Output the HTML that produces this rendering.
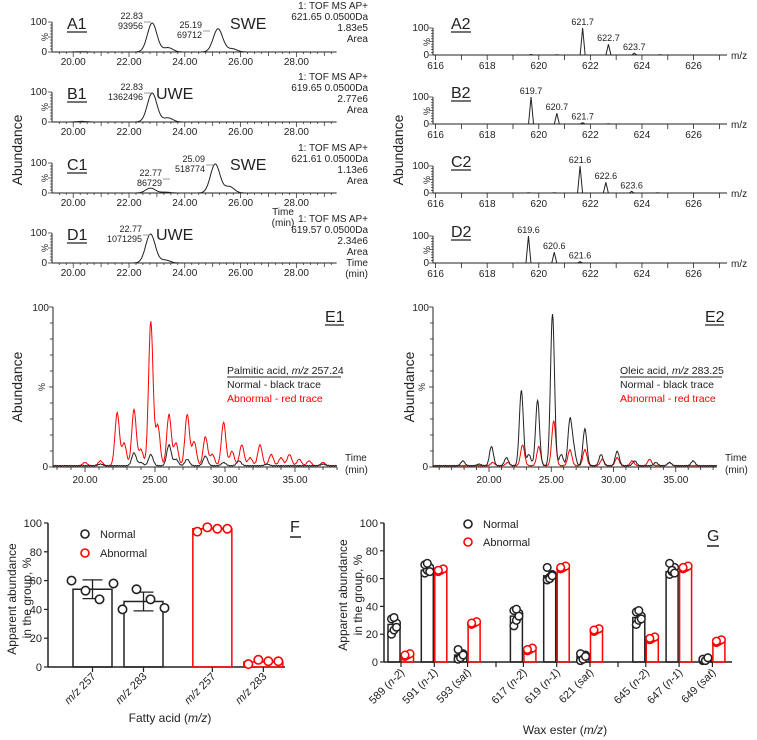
<!DOCTYPE html>
<html><head><meta charset="utf-8"><style>
html,body{margin:0;padding:0;background:#fff}
svg{display:block;font-family:"Liberation Sans",Arial,sans-serif}
</style></head><body>
<svg id="fig" width="757" height="740" viewBox="0 0 757 740" xmlns="http://www.w3.org/2000/svg"></svg>
<script>
// ---------- DATA ----------
const a1Times=[20.3,22.83,23.4,25.19,25.7];
const a1Heights=[1,100,15,80,11];
const b1Times=[20.3,22.83,23.4];
const b1Heights=[2,100,14];
const c1Times=[22.77,23.3,25.09,25.6];
const c1Heights=[17,3,100,22];
const d1Times=[22.77,23.3];
const d1Heights=[100,10];
const chromTicks=["20.00","22.00","24.00","26.00","28.00"];
const a2Mz=[619.7,620.7,621.7,622.7,623.7,624.7];const a2Int=[2,1,100,40,7,1];
const b2Mz=[619.7,620.7,621.7,622.7];const b2Int=[100,40,5,1];
const c2Mz=[619.6,620.6,621.6,622.6,623.6,624.6];const c2Int=[1,1,100,40,6,1];
const d2Mz=[619.6,620.6,621.6];const d2Int=[100,40,5];
const msTicks=["616","618","620","622","624","626"];
const e1RedT=[20.0,21.1,22.3,22.8,23.5,24.0,24.7,25.2,26.0,26.5,27.3,27.8,28.6,29.1,29.9,30.5,31.2,31.8,32.5,33.3,34.0,34.6,35.3,36.0,37.0];
const e1RedH=[2,3,33,14,35,10,90,25,32,14,32,15,18,7,27,9,13,5,13,7,5,7,4,3,2];
const e1BlkT=[21.1,23.5,24.0,24.7,26.0,26.5,27.3,28.6,29.9,31.0,33.0,37.0];
const e1BlkH=[1,8,2,7,13,4,4,6,2,3,1,1];
const e2BlkT=[17.9,19.2,20.2,21.4,22.6,23.2,23.9,25.1,25.8,26.5,26.8,27.7,29.0,30.3,31.7,33.4,34.5,36.4];
const e2BlkH=[3,1,12,5,47,7,41,95,7,28,10,23,7,9,3,2,2,3];
const e2RedT=[20.3,21.5,22.7,24.0,25.2,26.5,27.7,29.1,30.3,31.5,32.9,34.5];
const e2RedH=[2,2,13,12,28,10,10,4,5,3,4,2];
const eTicks=["20.00","25.00","30.00","35.00"];
const fCats=["257","283","257","283"];
const fMeans=[54,45.5,96,3.5];
const fSD=[6.5,6.5,0,0];
const fPts=[[60,53,47,58],[40,54,47,41],[94,97,96,96],[2,5,4,4]];
const fTicks=[0,20,40,60,80,100];
const gCats=["589","591","593","617","619","621","645","647","649"];
const gTags=["n-2","n-1","sat","n-2","n-1","sat","n-2","n-1","sat"];
const gNormal=[27,66,5,33,62,4,32,65,2];
const gAbnormal=[5,66,28,9,68,23,17,68,15];
const gNormalPts=[[20,23,28,31,32,25],[64,66,68,70,71,65],[2,4,6,9,3,5],[26,30,35,37,38,33],[59,61,63,68,60,62],[1,3,5,6,2,4],[27,30,33,36,37,31],[63,65,68,71,66,64],[1,2,3,2,1,3]];
const gAbnPts=[[4,5,6,5],[65,66,67,66],[27,28,29,28],[8,9,10,9],[67,68,69,68],[22,23,24,23],[16,17,18,17],[67,68,69,68],[14,15,16,15]];
const gTicks=[0,20,40,60,80,100];

// ---------- HELPERS ----------
const NS="http://www.w3.org/2000/svg";
const svg=document.getElementById('fig');
function mk(tag,attrs,parent){const e=document.createElementNS(NS,tag);for(const k in attrs)e.setAttribute(k,attrs[k]);(parent||svg).appendChild(e);return e;}
function txt(x,y,s,size,opt){opt=opt||{};const e=mk('text',{x:x,y:y,'font-size':size,fill:opt.fill||'#222','text-anchor':opt.anchor||'start'},opt.parent);if(opt.transform)e.setAttribute('transform',opt.transform);if(opt.html)e.innerHTML=s;else e.textContent=s;return e;}
function gsum(t,times,heights,sig){let v=0;for(let i=0;i<times.length;i++){const d=(t-times[i])/sig;v+=heights[i]*Math.exp(-0.5*d*d);}return v;}

// ---------- CHROMATOGRAMS (left) ----------
function chrom(name,base,times,heights,label,lx,sub,annY,ann,peakLabels){
  const g=mk('g',{});
  
  
  const x0=52,x1=333,t0=19.24,px=27.9;
  const X=t=>x0+(t-t0)*px;
  mk('line',{x1:x0,y1:base-30,x2:x0,y2:base,stroke:'#222','stroke-width':1},g);
  for(let i=0;i<=10;i++){mk('line',{x1:x0-(i%5==0?4:2),y1:base-i*3,x2:x0,y2:base-i*3,stroke:'#222','stroke-width':0.7},g);}
  mk('line',{x1:x0,y1:base,x2:x1,y2:base,stroke:'#222','stroke-width':1},g);
  for(let t=19.5;t<=29.4;t+=0.25){const maj=Math.abs(t-Math.round(t))<0.01&&Math.round(t)%2==0;const mid=Math.abs(t-Math.round(t))<0.01;mk('line',{x1:X(t),y1:base,x2:X(t),y2:base+(maj?5:mid?4:2),stroke:'#222','stroke-width':0.7},g);}
  chromTicks.forEach(s=>{txt(X(parseFloat(s)),base+13,s,10,{anchor:'middle',parent:g});});
  txt(47,base-27,'100',10,{anchor:'end',parent:g});txt(47,base+3,'0',10,{anchor:'end',parent:g});
  txt(45,base-12,'%',9,{anchor:'middle',parent:g,transform:`rotate(-90 45 ${base-15})`});
  let d='';for(let t=t0;t<=29.45;t+=0.03){const v=gsum(t,times,heights,0.17);d+=(d?'L':'M')+X(t).toFixed(1)+' '+(base-v*0.29).toFixed(1);}
  const p=mk('path',{d:d,fill:'none',stroke:'#222','stroke-width':1},g);
  
  
  txt(67,base-23,label,16,{parent:g});mk('line',{x1:67,y1:base-20,x2:87,y2:base-20,stroke:'#222','stroke-width':1.3},g);
  if(sub)txt(lx,base-23,sub,16,{parent:g});
  peakLabels.forEach(pl=>{txt(pl[0],pl[1],pl[2],9,{anchor:'end',parent:g});txt(pl[0],pl[1]+10,pl[3],9,{anchor:'end',parent:g});mk('line',{x1:pl[0]+1,y1:pl[1]+3,x2:pl[0]+8,y2:pl[1]+3,stroke:'#999','stroke-width':1},g);});
  ann.forEach((s,i)=>txt(368,annY+i*11,s,10,{anchor:'end',parent:g}));
  return g;
}
chrom('chromatogram-a1',52,a1Times,a1Heights,'A1',230,'SWE',9,['1: TOF MS AP+','621.65 0.0500Da','1.83e5','Area'],[[143,19,'22.83','93956'],[202,28,'25.19','69712']]);
chrom('chromatogram-b1',122,b1Times,b1Heights,'B1',156,'UWE',80,['1: TOF MS AP+','619.65 0.0500Da','2.77e6','Area'],[[143,90,'22.83','1362496']]);
chrom('chromatogram-c1',193,c1Times,c1Heights,'C1',230,'SWE',151,['1: TOF MS AP+','621.61 0.0500Da','1.13e6','Area'],[[162,176,'22.77','86729'],[205,162,'25.09','518774']]);
chrom('chromatogram-d1',263,d1Times,d1Heights,'D1',156,'UWE',222,['1: TOF MS AP+','619.57 0.0500Da','2.34e6','Area','Time','(min)'],[[142,232,'22.77','1071295']]);
txt(283,215,'Time',10,{anchor:'middle'});txt(283,226,'(min)',10,{anchor:'middle'});
txt(22,150,'Abundance',14,{anchor:'middle',transform:'rotate(-90 22 150)'});

// ---------- MASS SPECTRA (right) ----------
function ms(name,base,mz,inten,label){
  const g=mk('g',{});
  
  
  const x0=433,x1=727,m0=615.9,px=25.8;
  const X=m=>x0+(m-m0)*px;
  mk('line',{x1:x0,y1:base-27,x2:x0,y2:base,stroke:'#222','stroke-width':1},g);
  for(let i=0;i<=10;i++)mk('line',{x1:x0-(i%5==0?4:2),y1:base-i*2.7,x2:x0,y2:base-i*2.7,stroke:'#222','stroke-width':0.7},g);
  mk('line',{x1:x0,y1:base,x2:x1,y2:base,stroke:'#222','stroke-width':1},g);
  for(let m=616;m<=627;m++)mk('line',{x1:X(m),y1:base,x2:X(m),y2:base+5,stroke:'#222','stroke-width':0.8},g);
  msTicks.forEach(s=>txt(X(+s),base+14,s,10,{anchor:'middle',parent:g}));
  txt(429,base-24,'100',10,{anchor:'end',parent:g});txt(429,base+3,'0',10,{anchor:'end',parent:g});
  txt(427,base-10,'%',9,{anchor:'middle',parent:g,transform:`rotate(-90 427 ${base-13})`});
  txt(731,base+4,'m/z',10,{parent:g});
  mz.forEach((m,i)=>{const h=inten[i]*0.27;const p=mk('path',{d:`M${X(m)-2.5} ${base}L${X(m)} ${base-h}L${X(m)+2.5} ${base}`,fill:'none',stroke:'#222','stroke-width':1},g);
    
    
    if(inten[i]>=4)txt(X(m),base-h-3,m.toFixed(1),9,{anchor:'middle',parent:g});});
  txt(451,base-26,label,16,{parent:g});mk('line',{x1:451,y1:base-23,x2:471,y2:base-23,stroke:'#222','stroke-width':1.3},g);
}
ms('spectrum-a2',55,a2Mz,a2Int,'A2');
ms('spectrum-b2',124,b2Mz,b2Int,'B2');
ms('spectrum-c2',193,c2Mz,c2Int,'C2');
ms('spectrum-d2',263,d2Mz,d2Int,'D2');
txt(403,150,'Abundance',14,{anchor:'middle',transform:'rotate(-90 403 150)'});

// ---------- E panels ----------
function eplot(name,x0,x1,tA,tickPos20,px,series,label,title,abX){
  const g=mk('g',{});
  
  
  const base=467,top=307;
  const X=t=>tickPos20+(t-20)*px;const Y=v=>base-v*(base-top)/100;
  mk('line',{x1:x0,y1:top,x2:x0,y2:base,stroke:'#222','stroke-width':1},g);
  for(let i=0;i<=10;i++)mk('line',{x1:x0-(i%5==0?4:3),y1:Y(i*10),x2:x0,y2:Y(i*10),stroke:'#222','stroke-width':0.8},g);
  txt(x0-4,top+4,'100',10,{anchor:'end',parent:g});txt(x0-5,base+3,'0',10,{anchor:'end',parent:g});
  txt(x0-8,387,'%',9,{anchor:'middle',parent:g,transform:`rotate(-90 ${x0-8} 387)`});
  txt(abX,387,'Abundance',14,{anchor:'middle',parent:g,transform:`rotate(-90 ${abX} 387)`});
  mk('line',{x1:x0,y1:base,x2:x1,y2:base,stroke:'#222','stroke-width':1},g);
  for(let t=Math.ceil(tA[0]);t<=tA[1];t++)mk('line',{x1:X(t),y1:base,x2:X(t),y2:base+(t%5==0?5:3),stroke:'#222','stroke-width':0.8},g);
  eTicks.forEach(s=>txt(X(+s),base+16,s,10,{anchor:'middle',parent:g}));
  txt(x1+8,base-6,'Time',10,{parent:g});txt(x1+8,base+6,'(min)',10,{parent:g});
  series.forEach(s=>{let d='';for(let t=tA[0];t<=tA[1];t+=0.04){const v=0.8+gsum(t,s.t,s.h,0.16)+0.2*Math.sin(t*37);d+=(d?'L':'M')+X(t).toFixed(1)+' '+Y(Math.max(0,v)).toFixed(1);}
    const p=mk('path',{d:d,fill:'none',stroke:s.c,'stroke-width':1},g);
    
    });
  txt(x1-12,322,label,16,{parent:g});mk('line',{x1:x1-12,y1:325,x2:x1+7,y2:325,stroke:'#222','stroke-width':1.3},g);
  const lx=title.x;
  txt(lx,374,title.s,10.5,{parent:g,html:true});
  mk('line',{x1:lx,y1:377,x2:lx+title.w,y2:377,stroke:'#222','stroke-width':1},g);
  txt(lx,388,'Normal - black trace',10.5,{parent:g});
  txt(lx,402,'Abnormal - red trace',10.5,{parent:g,fill:'#f00'});
}
eplot('chromatogram-e1',53,337,[17.7,38.0],85,14,[{t:e1RedT,h:e1RedH,c:'#f00',n:'e1-abnormal-trace'},{t:e1BlkT,h:e1BlkH,c:'#222',n:'e1-normal-trace'}],'E1',{x:227,w:114,s:'Palmitic acid, <tspan font-style="italic">m/z</tspan> 257.24'},22);
eplot('chromatogram-e2',433,717,[15.5,38.3],489,12.45,[{t:e2RedT,h:e2RedH,c:'#f00',n:'e2-abnormal-trace'},{t:e2BlkT,h:e2BlkH,c:'#222',n:'e2-normal-trace'}],'E2',{x:620,w:102,s:'Oleic acid, <tspan font-style="italic">m/z</tspan> 283.25'},414);

// ---------- F ----------
(function(){
  const g=mk('g',{});
  
  
  const ax=48,base=667,top=523,xe=285;
  const Y=v=>base-v*(base-top)/100;
  const centers=[0,1,2.35,3.35].map(i=>92.5+i*51);
  mk('line',{x1:ax,y1:top,x2:ax,y2:base,stroke:'#222','stroke-width':1.5},g);
  mk('line',{x1:ax,y1:base,x2:xe,y2:base,stroke:'#222','stroke-width':1.5},g);
  fTicks.forEach(v=>{mk('line',{x1:ax-4,y1:Y(v),x2:ax,y2:Y(v),stroke:'#222','stroke-width':1.2},g);txt(ax-6,Y(v)+4,String(v),11,{anchor:'end',parent:g});});
  fMeans.forEach((m,i)=>{const c=i<2?'#222':'#f00';const cx=centers[i];
    const b=mk('rect',{x:cx-19.5,y:Y(m),width:39,height:base-Y(m),fill:'none',stroke:c,'stroke-width':1.5},g);
    
    
    if(fSD[i]>0){mk('line',{x1:cx,y1:Y(m+fSD[i]),x2:cx,y2:Y(m-fSD[i]),stroke:c,'stroke-width':1.3},g);
      [m+fSD[i],m-fSD[i]].forEach(v=>mk('line',{x1:cx-10,y1:Y(v),x2:cx+10,y2:Y(v),stroke:c,'stroke-width':1.3},g));}
    fPts[i].forEach((v,j)=>{const off=(j-1.5)*(i<2?14:10);const p=mk('circle',{cx:cx+off,cy:Y(v),r:4.2,fill:'#fff',stroke:c,'stroke-width':1.6},g);
      
      });
    mk('line',{x1:cx,y1:base,x2:cx,y2:base+5,stroke:'#222','stroke-width':1.2},g);
    txt(cx+4,base+10,'<tspan font-style="italic">m/z</tspan> '+fCats[i],11,{anchor:'end',parent:g,html:true,transform:`rotate(-45 ${cx+4} ${base+10})`});
  });
  txt(12,595,'Apparent abundance',12,{anchor:'middle',transform:'rotate(-90 16 595)',parent:g});
  txt(28,595,'in the group, %',12,{anchor:'middle',transform:'rotate(-90 31 595)',parent:g});
  txt(170,722,'Fatty acid (<tspan font-style="italic">m/z</tspan>)',12,{anchor:'middle',parent:g,html:true});
  mk('circle',{cx:85,cy:534,r:4,fill:'#fff',stroke:'#222','stroke-width':1.6},g);txt(100,538,'Normal',11,{parent:g});
  mk('circle',{cx:85,cy:553,r:4,fill:'#fff',stroke:'#f00','stroke-width':1.6},g);txt(100,557,'Abnormal',11,{parent:g});
  txt(290,532,'F',16,{parent:g});mk('line',{x1:290,y1:537,x2:301,y2:537,stroke:'#222','stroke-width':1.5},g);
})();

// ---------- G ----------
(function(){
  const g=mk('g',{});
  
  
  const ax=384,base=662,top=523,xe=732;
  const Y=v=>base-v*(base-top)/100;
  const CX=i=>401+i*33.3+Math.floor(i/3)*22.5;
  mk('line',{x1:ax,y1:top,x2:ax,y2:base,stroke:'#222','stroke-width':1.5},g);
  mk('line',{x1:ax,y1:base,x2:xe,y2:base,stroke:'#222','stroke-width':1.5},g);
  gTicks.forEach(v=>{mk('line',{x1:ax-4,y1:Y(v),x2:ax,y2:Y(v),stroke:'#222','stroke-width':1.2},g);txt(ax-6,Y(v)+4,String(v),11,{anchor:'end',parent:g});});
  [496,618].forEach(x=>mk('line',{x1:x,y1:base,x2:x,y2:base+5,stroke:'#222','stroke-width':1.2},g));
  gCats.forEach((c,i)=>{const cx=CX(i);
    [[gNormal[i],gNormalPts[i],'#222',-7,'normal'],[gAbnormal[i],gAbnPts[i],'#f00',6.5,'abnormal']].forEach(s=>{
      const bx=cx+s[3];
      const b=mk('rect',{x:bx-6,y:Y(s[0]),width:12,height:base-Y(s[0]),fill:'none',stroke:s[2],'stroke-width':1.5},g);
      
      
      s[1].forEach((v,j)=>{const p=mk('circle',{cx:bx+((j%3)-1)*2.5,cy:Y(v),r:3.8,fill:'#fff',stroke:s[2],'stroke-width':1.5},g);
        
        });
    });
    mk('line',{x1:cx,y1:base,x2:cx,y2:base+5,stroke:'#222','stroke-width':1.2},g);
    txt(cx+4,base+11,c+' (<tspan font-style="italic">'+gTags[i]+'</tspan>)',11,{anchor:'end',parent:g,html:true,transform:`rotate(-45 ${cx+4} ${base+11})`});
  });
  txt(347,595,'Apparent abundance',12,{anchor:'middle',transform:'rotate(-90 347 595)',parent:g});
  txt(362,595,'in the group, %',12,{anchor:'middle',transform:'rotate(-90 362 595)',parent:g});
  txt(565,734,'Wax ester (<tspan font-style="italic">m/z</tspan>)',12,{anchor:'middle',parent:g,html:true});
  mk('circle',{cx:468,cy:524,r:4,fill:'#fff',stroke:'#222','stroke-width':1.6},g);txt(483,528,'Normal',11,{parent:g});
  mk('circle',{cx:468,cy:542,r:4,fill:'#fff',stroke:'#f00','stroke-width':1.6},g);txt(483,546,'Abnormal',11,{parent:g});
  txt(707,541,'G',16,{parent:g});mk('line',{x1:707,y1:546,x2:719,y2:546,stroke:'#222','stroke-width':1.5},g);
})();
</script>
</body></html>
